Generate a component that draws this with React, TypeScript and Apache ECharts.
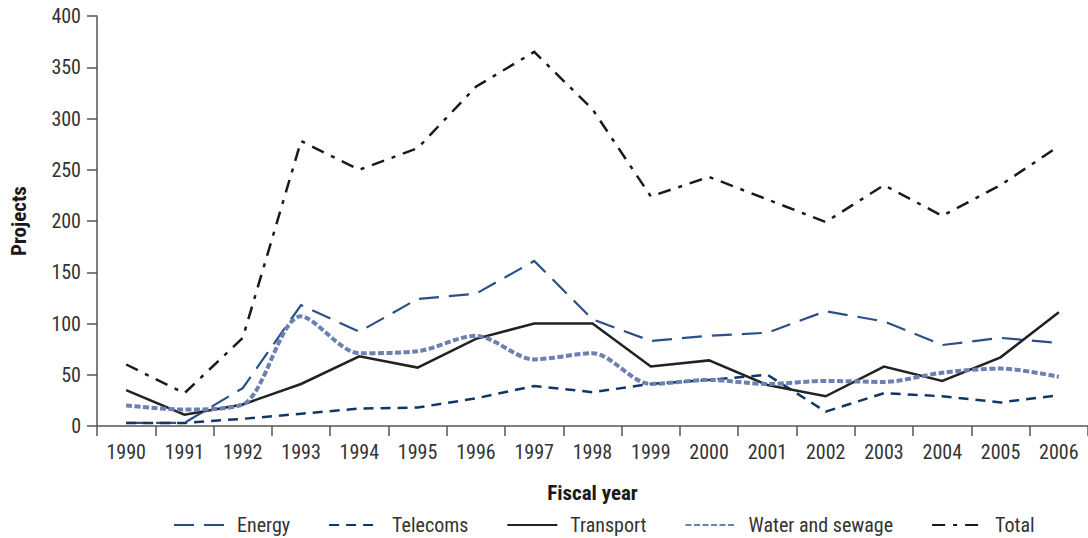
import React, { useEffect, useRef } from "react";
import * as echarts from "echarts";

const years = ["1990","1991","1992","1993","1994","1995","1996","1997","1998","1999","2000","2001","2002","2003","2004","2005","2006"];
const energy = [3, 3, 37, 118, 92, 124, 129, 161, 104, 83, 88, 91, 112, 102, 79, 86, 81];
const telecoms = [3, 3, 7, 12, 17, 18, 27, 39, 33, 41, 45, 50, 14, 32, 29, 23, 30];
const transport = [35, 11, 21, 41, 68, 57, 85, 100, 100, 58, 64, 40, 29, 58, 44, 67, 111];
const water = [20, 16, 21, 107, 71, 73, 88, 65, 71, 41, 45, 41, 44, 43, 52, 56, 48];
const total = [60, 32, 86, 278, 250, 271, 331, 365, 309, 224, 243, 221, 199, 235, 205, 235, 273];

const FONT = "'Roboto Condensed', 'Liberation Sans Narrow', 'DejaVu Sans Condensed', 'Arial Narrow', sans-serif";

export default function App() {
  const ref = useRef<HTMLDivElement>(null);
  useEffect(() => {
    if (!ref.current) return;
    const chart = echarts.init(ref.current, null, { renderer: "svg" });
    const mk = (name: string, data: number[], color: string, width: number, type: any, extra: any = {}) => ({
      name,
      type: "line",
      data,
      symbol: "none",
      lineStyle: { color, width, type, cap: "butt", join: "miter" },
      itemStyle: { color },
      ...extra,
    });
    chart.setOption({
      animation: false,
      textStyle: { fontFamily: FONT },
      grid: { left: 95, right: -7, top: 16, bottom: 112, containLabel: false },
      xAxis: {
        type: "category",
        data: years,
        boundaryGap: true,
        name: "Fiscal year",
        nameLocation: "middle",
        nameGap: 56,
        nameTextStyle: { fontFamily: FONT, fontSize: 21, fontWeight: "bold", color: "#1a1a1a" },
        axisLine: { lineStyle: { color: "#555", width: 1.5 } },
        axisTick: { show: true, length: 10, alignWithLabel: false, lineStyle: { color: "#555", width: 1.5 } },
        axisLabel: { fontFamily: FONT, fontSize: 20, color: "#333", margin: 16 },
      },
      yAxis: {
        type: "value",
        min: 0,
        max: 400,
        interval: 50,
        name: "Projects",
        nameLocation: "middle",
        nameRotate: 90,
        nameGap: 68,
        nameTextStyle: { fontFamily: FONT, fontSize: 21, fontWeight: "bold", color: "#1a1a1a" },
        axisLine: { show: true, lineStyle: { color: "#555", width: 1.5 } },
        axisTick: { show: true, length: 10, lineStyle: { color: "#555", width: 1.5 } },
        axisLabel: { fontFamily: FONT, fontSize: 20, color: "#333", margin: 16 },
        splitLine: { show: false },
      },
      legend: {
        bottom: -2,
        left: 168,
        itemWidth: 50,
        itemHeight: 14,
        itemGap: 38,
        itemStyle: { opacity: 0 },
        textStyle: { fontFamily: FONT, fontSize: 20, color: "#333", padding: [0, 0, 0, 8] },
        data: ["Energy", "Telecoms", "Transport", "Water and sewage", "Total"],
      },
      series: [
        mk("Energy", energy, "#2b5088", 2.2, [20, 10]),
        mk("Telecoms", telecoms, "#0f3868", 2.5, [10, 7]),
        mk("Transport", transport, "#222222", 2.5, "solid"),
        mk("Water and sewage", water, "#6d80b2", 4, [6, 2.5], { smooth: 0.3 }),
        mk("Total", total, "#1a1a1a", 2.5, [13, 8, 4, 8]),
      ],
    });
    return () => chart.dispose();
  }, []);
  return (
    <div
      ref={ref}
      style={{ position: "fixed", left: 0, top: 0, width: 1088, height: 538, background: "#fff" }}
    />
  );
}
